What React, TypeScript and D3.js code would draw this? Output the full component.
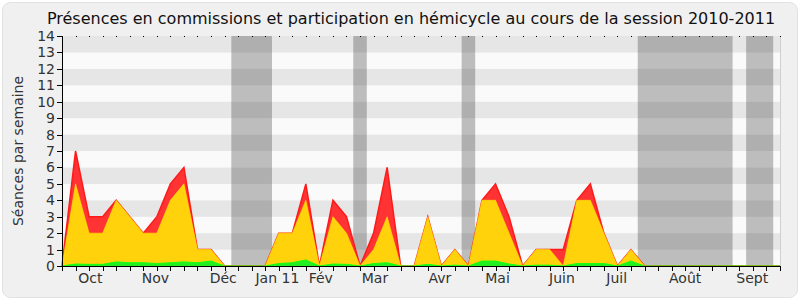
import React from "react";
import * as d3 from "d3";

const weeks = d3.range(54);
const totalSeances = [0,7,3,3,4,3,2,3,5,6,1,1,0,0,0,0,2,2,5,0,4,3,0,2,6,0,0,3,0,1,0,4,5,3,0,1,1,1,4,5,2,0,1,0,0,0,0,0,0,0,0,0,0,0];
const hemicycle = [0,5,2,2,4,3,2,2,4,5,1,1,0,0,0,0,2,2,4,0,3,2,0,1,3,0,0,3,0,1,0,4,4,2,0,1,1,0,4,4,2,0,1,0,0,0,0,0,0,0,0,0,0,0];
const commission = [0,0.12,0.1,0.1,0.25,0.2,0.2,0.15,0.2,0.25,0.2,0.3,0,0,0,0,0.15,0.2,0.37,0,0.12,0.1,0,0.15,0.2,0,0,0.1,0,0.05,0,0.3,0.3,0.12,0,0.05,0.05,0,0.15,0.15,0.15,0,0.3,0,0,0,0,0,0,0,0,0,0,0];
const monthLabels = ["Oct","Nov","Déc","Jan 11","Fév","Mar","Avr","Mai","Juin","Juil","Août","Sept"];
const monthPos = [2.1,6.9,11.9,15.9,19.1,23.1,27.9,32.15,36.9,40.95,46,50.95];
const vacStart = [12.5,21.5,29.5,42.5,50.5];
const vacEnd = [15.5,22.5,30.5,49.5,52.5];
const yTicks = d3.range(0, 15);

const W = 800, H = 300;
const L = 62, R = 780, T = 36, B = 266;

export default function App() {
  const x = d3.scaleLinear().domain([0, 53]).range([L, R]);
  const y = d3.scaleLinear().domain([0, 14]).range([B, T]);
  const area = (vals: number[]) =>
    d3.area<number>().x((d) => x(d)).y0(y(0)).y1((d) => y(vals[d]))(weeks) || "";
  const line = (vals: number[]) =>
    d3.line<number>().x((d) => x(d)).y((d) => y(vals[d]))(weeks) || "";
  const font = "'DejaVu Sans', Verdana, sans-serif";
  return (
    <div style={{ position: "absolute", left: 0, top: 0 }}>
      <svg width={W} height={H} style={{ display: "block" }}>
        <rect x={0} y={0} width={W} height={H} fill="#ffffff" />
        <rect x={2.5} y={2.5} width={W - 5} height={H - 5} rx={8} fill="#f0f0f0" stroke="#e2e2e2" />
        {d3.range(14).map((i) => (
          <rect key={"s" + i} x={L} y={y(i + 1)} width={R - L} height={y(i) - y(i + 1)} fill={i % 2 === 0 ? "#fafafa" : "#e6e6e6"} />
        ))}
        {vacStart.map((s, i) => (
          <rect key={"v" + i} x={x(s)} y={T} width={x(vacEnd[i]) - x(s)} height={B - T} fill="rgb(50,50,50)" fillOpacity={0.3} />
        ))}
        <path d={area(totalSeances)} fill="#ff3333" />
        <path d={line(totalSeances)} fill="none" stroke="#ff1a1a" strokeWidth={1.5} />
        <path d={area(hemicycle)} fill="#ffd20c" />
        <path d={line(hemicycle)} fill="none" stroke="#ffe800" strokeWidth={1} strokeOpacity={0.6} />
        <path d={area(commission)} fill="#22ee22" />
        <path d={line(commission)} fill="none" stroke="#11ff11" strokeWidth={1} />
        <line x1={R + 0.5} x2={R + 0.5} y1={T} y2={B} stroke="#d0d0d0" />
        {weeks.map((w) => (
          <rect key={"d" + w} x={Math.round(x(w))} y={T} width={1} height={1} fill="#000" />
        ))}
        <line x1={L} x2={R} y1={B + 0.5} y2={B + 0.5} stroke="#000" />
        {weeks.map((w) => (
          <line key={"t" + w} x1={Math.round(x(w)) + 0.5} x2={Math.round(x(w)) + 0.5} y1={B} y2={B + 5} stroke="#000" />
        ))}
        <line x1={L + 0.5} x2={L + 0.5} y1={T} y2={B + 1} stroke="#000" />
        {yTicks.map((t) => (
          <g key={"y" + t}>
            <line x1={L - 5} x2={L} y1={Math.round(y(t)) + 0.5} y2={Math.round(y(t)) + 0.5} stroke="#000" />
            <text x={L - 7} y={y(t) + 5} textAnchor="end" fontSize={14} fontFamily={font} fill="#333">{t}</text>
          </g>
        ))}
        {monthLabels.map((m, i) => (
          <text key={"m" + i} x={x(monthPos[i])} y={283} textAnchor="middle" fontSize={14} fontFamily={font} fill="#333">{m}</text>
        ))}
        <text transform={`translate(23,151) rotate(-90)`} textAnchor="middle" fontSize={14} fontFamily={font} fill="#333">Séances par semaine</text>
        <text x={411} y={24} textAnchor="middle" fontSize={16} fontFamily={font} fill="#111">Présences en commissions et participation en hémicycle au cours de la session 2010-2011</text>
      </svg>
    </div>
  );
}
